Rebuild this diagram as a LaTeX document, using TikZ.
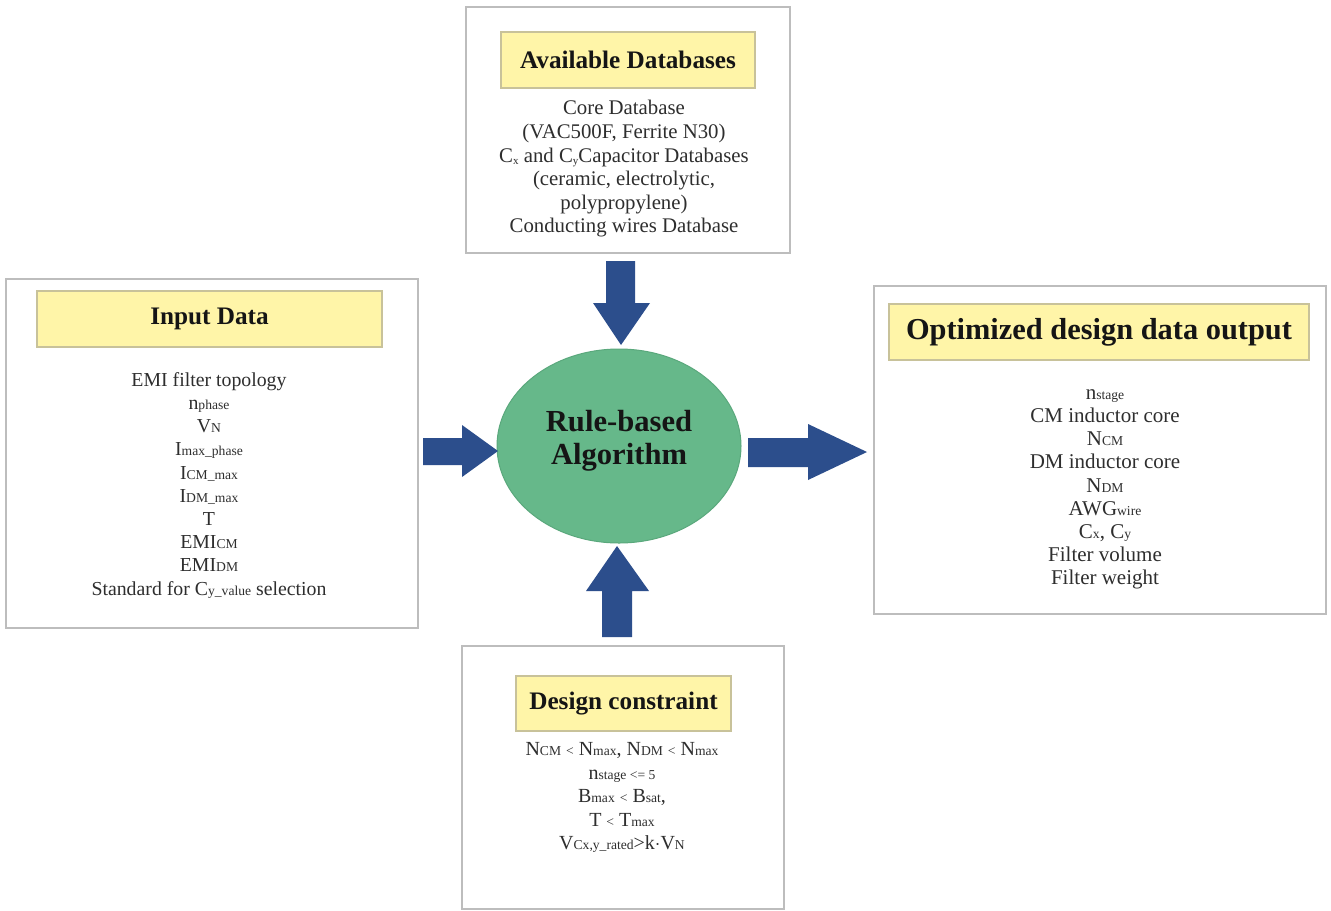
\documentclass[tikz,border=0pt]{standalone}
\usepackage{fontspec}
\setmainfont{Liberation Serif}
\usetikzlibrary{shapes.geometric}
\definecolor{boxline}{HTML}{BDBDBD}
\definecolor{ttlfill}{HTML}{FFF5A8}
\definecolor{ttlline}{HTML}{C8C29A}
\definecolor{algfill}{HTML}{66B88A}
\definecolor{algline}{HTML}{5AA87C}
\definecolor{arrblue}{HTML}{2C4E8C}
\definecolor{txt}{HTML}{2E2E2E}
\definecolor{ttltxt}{HTML}{151515}
\newcommand{\smsub}[1]{{\fontsize{6.8}{7}\selectfont #1}}
\newcommand{\lowsub}[1]{\raisebox{-0.3ex}{\fontsize{5.5}{6}\selectfont #1}}
\begin{document}
\begin{tikzpicture}[x=0.5pt,y=-0.5pt,
  outerbox/.style={draw=boxline, line width=0.6pt, fill=white, inner sep=0pt},
  ttlbox/.style={draw=ttlline, line width=0.6pt, fill=ttlfill, inner sep=0pt,
     text=ttltxt, font=\bfseries\fontsize{12.6}{14}\selectfont},
  bodytxt/.style={text=txt, align=center, inner sep=0pt, anchor=north},
  algtxt/.style={text=ttltxt, align=center, inner sep=0pt,
     font=\bfseries\fontsize{15.3}{16.5}\selectfont},
  blockarrow/.style={fill=arrblue, draw=none}]
\useasboundingbox (0,0) rectangle (1331,910);
\fill[white] (0,0) rectangle (1331,910);

% outer boxes
\node[outerbox, minimum width=162pt, minimum height=123pt] (dbbox) at (628,130) {};
\node[outerbox, minimum width=206pt, minimum height=174.5pt] (inbox) at (212,453.5) {};
\node[outerbox, minimum width=226pt, minimum height=164pt] (outbox) at (1100,450) {};
\node[outerbox, minimum width=161pt, minimum height=131.5pt] (conbox) at (623,777.5) {};

% title boxes
\node[ttlbox, minimum width=127pt, minimum height=28pt] (dbttl) at (628,60) {Available Databases};
\node[ttlbox, minimum width=172.5pt, minimum height=28pt] (inttl) at (209.5,319) {Input Data};
\node[ttlbox, minimum width=210pt, minimum height=28pt,
      font=\bfseries\fontsize{15.2}{17}\selectfont] (outttl) at (1099,332) {Optimized design data output};
\node[ttlbox, minimum width=107.5pt, minimum height=27.5pt] (conttl) at (623.5,703.5) {Design constraint};

% body texts
\node[bodytxt, font=\fontsize{10.4}{11.8}\selectfont] (dbtxt) at (624,100) {Core Database\\
(VAC500F, Ferrite N30)\\
C\lowsub{x} and C\lowsub{y}Capacitor Databases\\
(ceramic, electrolytic,\\
polypropylene)\\
Conducting wires Database};

\node[bodytxt, font=\fontsize{9.9}{11.6}\selectfont] (intxt) at (209,372) {EMI filter topology\\
n\smsub{phase}\\
V\smsub{N}\\
I\smsub{max\_phase}\\
I\smsub{CM\_max}\\
I\smsub{DM\_max}\\
T\\
EMI\smsub{CM}\\
EMI\smsub{DM}\\
Standard for C\smsub{y\_value} selection};

\node[bodytxt, font=\fontsize{10.5}{11.6}\selectfont] (outtxt) at (1105,389) {n\smsub{stage}\\
CM inductor core\\
N\smsub{CM}\\
DM inductor core\\
N\smsub{DM}\\
AWG\smsub{wire}\\
C\smsub{x}, C\smsub{y}\\
Filter volume\\
Filter weight};

\node[bodytxt, font=\fontsize{10}{11.75}\selectfont] (context) at (622,742) {N\smsub{CM} \smsub{<} N\smsub{max}, N\smsub{DM} \smsub{<} N\smsub{max}\\
n\smsub{stage <= 5}\\
B\smsub{max} \smsub{<} B\smsub{sat},\\
T \smsub{<} T\smsub{max}\\
V\smsub{Cx,y\_rated}>k$\cdot$V\smsub{N}};

% central ellipse
\node[ellipse, fill=algfill, draw=algline, line width=0.5pt, inner sep=0pt,
      minimum width=122pt, minimum height=97pt] (alg) at (619,446) {};
\node[algtxt] (algt) at (619,441) {Rule-based\\Algorithm};

% block arrows
\fill[blockarrow] (606,261) -- (635,261) -- (635,303) -- (650,303) -- (621,345)
   -- (593,303) -- (606,303) -- cycle;
\fill[blockarrow] (423,438) -- (462,438) -- (462,425) -- (498,451) -- (462,477)
   -- (462,465) -- (423,465) -- cycle;
\fill[blockarrow] (748,438) -- (808,438) -- (808,424) -- (867,452) -- (808,480)
   -- (808,467) -- (748,467) -- cycle;
\fill[blockarrow] (602,637) -- (602,591) -- (586,591) -- (617,546) -- (649,591)
   -- (632,591) -- (632,637) -- cycle;
\end{tikzpicture}
\end{document}
